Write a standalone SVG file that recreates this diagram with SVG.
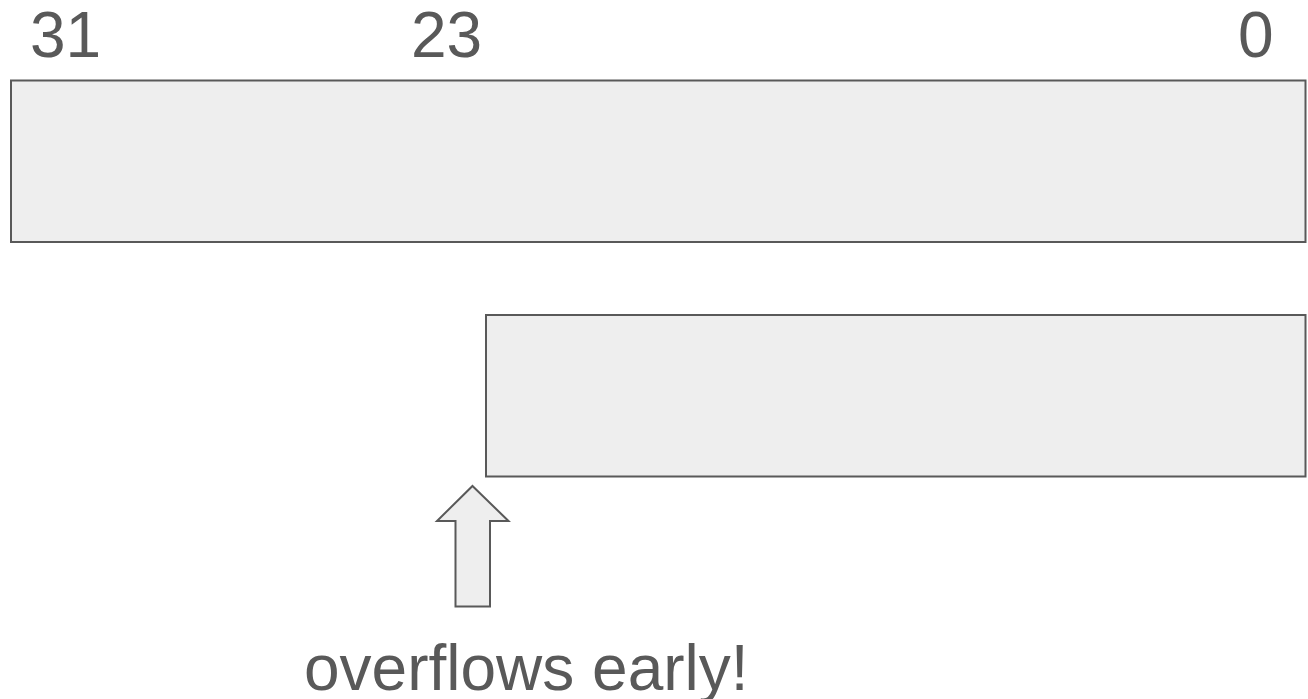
<svg xmlns="http://www.w3.org/2000/svg" width="1308" height="699" viewBox="0 0 1308 699">
  <style>
    .box { fill: #eeeeee; stroke: #595959; stroke-width: 2; }
    .lbl { font-family: "Liberation Sans", Arial, sans-serif; font-size: 64px; fill: #595959; }
  </style>
  <rect width="1308" height="699" fill="#ffffff"/>
  <!-- bit position labels -->
  <g id="bit-labels">
    <text class="lbl" x="30" y="57">31</text>
    <text class="lbl" x="411" y="57">23</text>
    <text class="lbl" x="1238" y="57">0</text>
  </g>
  <!-- 32-bit register -->
  <g id="register-32">
    <rect class="box" x="11" y="80.5" width="1294.5" height="161.5"/>
  </g>
  <!-- 24-bit register -->
  <g id="register-24">
    <rect class="box" x="486" y="315" width="819.5" height="161.5"/>
  </g>
  <!-- block arrow pointing at bit 23 -->
  <g id="connectors">
    <polygon class="box" points="472.5,486 508.5,521 490,521 490,606.5 455.5,606.5 455.5,521 437,521"/>
  </g>
  <!-- caption -->
  <g id="caption">
    <text class="lbl" x="304" y="690">overflows early!</text>
  </g>
</svg>
